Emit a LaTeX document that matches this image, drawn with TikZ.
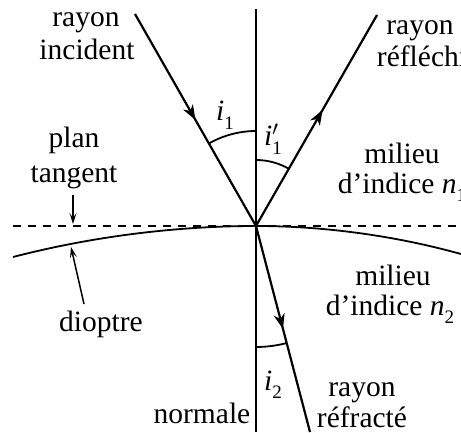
\documentclass[tikz,border=0pt]{standalone}
\usepackage{fontspec}
\setmainfont{Liberation Serif}
\usetikzlibrary{arrows.meta,decorations.markings}
\newcommand{\sbx}[1]{\raisebox{-0.28em}{\fontsize{19}{19}\selectfont #1}}
\begin{document}
\begin{tikzpicture}[x=1pt,y=1pt,
  lbl/.style={font=\fontsize{29.5}{34}\selectfont, inner sep=0pt, anchor=base},
  ray/.style={line width=2.2pt},
  midarrow/.style={postaction={decorate,decoration={markings,
     mark=at position #1 with {\arrow{Stealth[length=15pt,width=11pt,inset=4.5pt]}}}}},
  normalline/.style={line width=1.2pt},
  arcline/.style={line width=1.8pt},
  dioptreline/.style={line width=1.8pt},
  tangentline/.style={line width=1.5pt, dash pattern=on 8pt off 7pt},
  pointer/.style={line width=1.5pt, -{Stealth[length=11pt,width=7pt,inset=5pt]}}
]
\useasboundingbox (0,0) rectangle (461,432);
% key points
\coordinate (O) at (256,206);
\coordinate (A) at (135,418);
\coordinate (B) at (377,417);
\coordinate (C) at (310,0);
\coordinate (Ntop) at (256,423);
\coordinate (Nbot) at (256,0);
\coordinate (Tl) at (13,206);
\coordinate (Tr) at (461,206);
% normal and tangent plane
\draw[normalline] (Ntop) -- (Nbot);
\draw[tangentline] (Tl) -- (Tr);
% dioptre
\draw[dioptreline] (13,175) parabola bend (O) (461,178);
% rays
\draw[ray, midarrow=0.5] (A) -- (O);
\draw[ray, midarrow=0.55] (O) -- (B);
\draw[ray, midarrow=0.5] (O) -- (C);
% angle arcs
\draw[arcline] ([shift={(0,95)}]O) arc[start angle=90, end angle=119.72, radius=95];
\draw[arcline] ([shift={(0,66)}]O) arc[start angle=90, end angle=60.17, radius=66];
\draw[arcline] ([shift={(0,-121)}]O) arc[start angle=-90, end angle=-75.31, radius=121];
% angle labels
\node[lbl] (li1) at (225,311) {\textit{i}\sbx{1}};
\node[lbl] (li1p) at (273,286) {\textit{i}\rlap{\raisebox{0.05em}{$'$}}\sbx{1}};
\node[lbl] (li2) at (273,42) {\textit{i}\sbx{2}};
% texts
\node[lbl] (inc1) at (86,405) {rayon};
\node[lbl] (inc2) at (87,372) {incident};
\node[lbl] (ref1) at (420,397) {rayon};
\node[lbl] (ref2) at (422,365) {réfléchi};
\node[lbl] (m1a) at (402,269) {milieu};
\node[lbl] (m1b) at (402,239) {d’indice \textit{n}\sbx{1}};
\node[lbl] (m2a) at (393,147) {milieu};
\node[lbl] (m2b) at (390,117) {d’indice \textit{n}\sbx{2}};
\node[lbl] (tr1) at (362,36) {rayon};
\node[lbl] (tr2) at (362,5) {réfracté};
\node[lbl] (nrm) at (202,9) {normale};
\node[lbl] (pl1) at (74,284) {plan};
\node[lbl] (pl2) at (74,250) {tangent};
\node[lbl] (dio) at (101,101) {dioptre};
% pointers
\coordinate (tp1) at (73,237);
\coordinate (tp2) at (73,208);
\coordinate (dp1) at (84,128);
\coordinate (dp2) at (71,185);
\draw[pointer] (tp1) -- (tp2);
\draw[pointer] (dp1) -- (dp2);
\end{tikzpicture}
\end{document}
